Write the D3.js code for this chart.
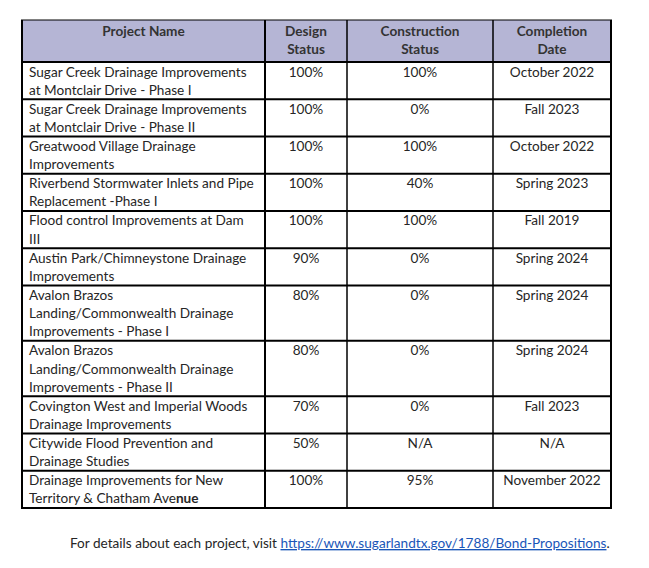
<!DOCTYPE html>
<html>
<head>
<meta charset="utf-8">
<script src="https://cdn.jsdelivr.net/npm/d3@7"></script>
<style>
  html, body { margin: 0; padding: 0; background: #ffffff; }
  svg { display: block; }
  text { font-family: Lato, "Open Sans", sans-serif; }
</style>
</head>
<body>
<svg id="chart" width="649" height="568"></svg>
<script>
// ---------------- DATA ----------------
const columnHeaders = [
  ["Project Name"],
  ["Design", "Status"],
  ["Construction", "Status"],
  ["Completion", "Date"]
];
const projectNames = [
  ["Sugar Creek Drainage Improvements", "at Montclair Drive - Phase I"],
  ["Sugar Creek Drainage Improvements", "at Montclair Drive - Phase II"],
  ["Greatwood Village Drainage", "Improvements"],
  ["Riverbend Stormwater Inlets and Pipe", "Replacement -Phase I"],
  ["Flood control Improvements at Dam", "III"],
  ["Austin Park/Chimneystone Drainage", "Improvements"],
  ["Avalon Brazos", "Landing/Commonwealth Drainage", "Improvements - Phase I"],
  ["Avalon Brazos", "Landing/Commonwealth Drainage", "Improvements - Phase II"],
  ["Covington West and Imperial Woods", "Drainage Improvements"],
  ["Citywide Flood Prevention and", "Drainage Studies"],
  ["Drainage Improvements for New", "Territory & Chatham Ave|nue"]
];
const designStatus = ["100%", "100%", "100%", "100%", "100%", "90%", "80%", "80%", "70%", "50%", "100%"];
const constructionStatus = ["100%", "0%", "100%", "40%", "100%", "0%", "0%", "0%", "0%", "N/A", "95%"];
const completionDate = ["October 2022", "Fall 2023", "October 2022", "Spring 2023", "Fall 2019", "Spring 2024", "Spring 2024", "Spring 2024", "Fall 2023", "N/A", "November 2022"];
const footerText = "For details about each project, visit ";
const footerLink = "https://www.sugarlandtx.gov/1788/Bond-Propositions";

// ---------------- LAYOUT ----------------
const svg = d3.select("#chart");
const colKeys = ["name", "design", "construction", "completion"];
const colEdges = [22, 265, 347, 493, 611];
const tableTop = 20, headerBottom = 62, tableBottom = 508;
const lineH = 18.2, rowPad = 0.9;
const fontSize = 13.6;
const textColor = "#262626";

const xLeft = d3.scaleOrdinal().domain(colKeys).range(colEdges.slice(0, 4));
const xRight = d3.scaleOrdinal().domain(colKeys).range(colEdges.slice(1));

const rows = projectNames.map((n, i) => ({
  name: n, design: designStatus[i], construction: constructionStatus[i], completion: completionDate[i],
  units: n.length + rowPad / lineH
}));
let acc = 0;
rows.forEach(r => { r.u0 = acc; acc += r.units; r.u1 = acc; });
const y = d3.scaleLinear().domain([0, acc]).range([headerBottom, tableBottom]);

// header background
svg.append("rect")
  .attr("x", colEdges[0]).attr("y", tableTop)
  .attr("width", colEdges[4] - colEdges[0]).attr("height", headerBottom - tableTop)
  .attr("fill", "#b5b5d5");

// header text
const hdr = svg.append("g");
columnHeaders.forEach((lines, c) => {
  const k = colKeys[c];
  const cx = (xLeft(k) + xRight(k)) / 2;
  lines.forEach((t, li) => {
    hdr.append("text")
      .attr("x", cx).attr("y", tableTop + 15.5 + li * lineH)
      .attr("text-anchor", "middle")
      .attr("font-size", fontSize).attr("font-weight", "bold")
      .attr("fill", "#333333")
      .text(t);
  });
});

// body
const body = svg.append("g");
rows.forEach(r => {
  const top = y(r.u0);
  r.name.forEach((t, li) => {
    const tx = body.append("text")
      .attr("x", xLeft("name") + 7).attr("y", top + 14.5 + li * lineH)
      .attr("font-size", fontSize).attr("fill", textColor);
    if (t.includes("|")) {
      const [a, b] = t.split("|");
      tx.append("tspan").text(a);
      tx.append("tspan").attr("font-weight", "bold").text(b);
    } else {
      tx.text(t);
    }
  });
  ["design", "construction", "completion"].forEach(k => {
    body.append("text")
      .attr("x", (xLeft(k) + xRight(k)) / 2)
      .attr("y", top + 14.5)
      .attr("text-anchor", "middle")
      .attr("font-size", fontSize).attr("fill", textColor)
      .text(r[k]);
  });
});

// grid lines
const grid = svg.append("g").attr("stroke", "#000").attr("fill", "none");
const hLines = [tableTop, headerBottom].concat(rows.map(r => y(r.u1)));
hLines.forEach((yy, i) => {
  grid.append("line")
    .attr("x1", colEdges[0] - 1).attr("x2", colEdges[4] + 1)
    .attr("y1", yy).attr("y2", yy)
    .attr("stroke-width", i === 0 ? 1 : 2);
});
colEdges.forEach((xx, i) => {
  grid.append("line")
    .attr("x1", xx).attr("x2", xx)
    .attr("y1", tableTop).attr("y2", tableBottom + 1)
    .attr("stroke-width", (i === 0 || i === 4) ? 2 : (i === 1 ? 2 : 1.5));
});

// footer
const ft = svg.append("text")
  .attr("x", 70).attr("y", 548)
  .attr("font-size", fontSize).attr("fill", textColor);
ft.append("tspan").text(footerText);
ft.append("tspan").attr("fill", "#1a56b8").attr("text-decoration", "underline").text(footerLink);
ft.append("tspan").text(".");
</script>
</body>
</html>
